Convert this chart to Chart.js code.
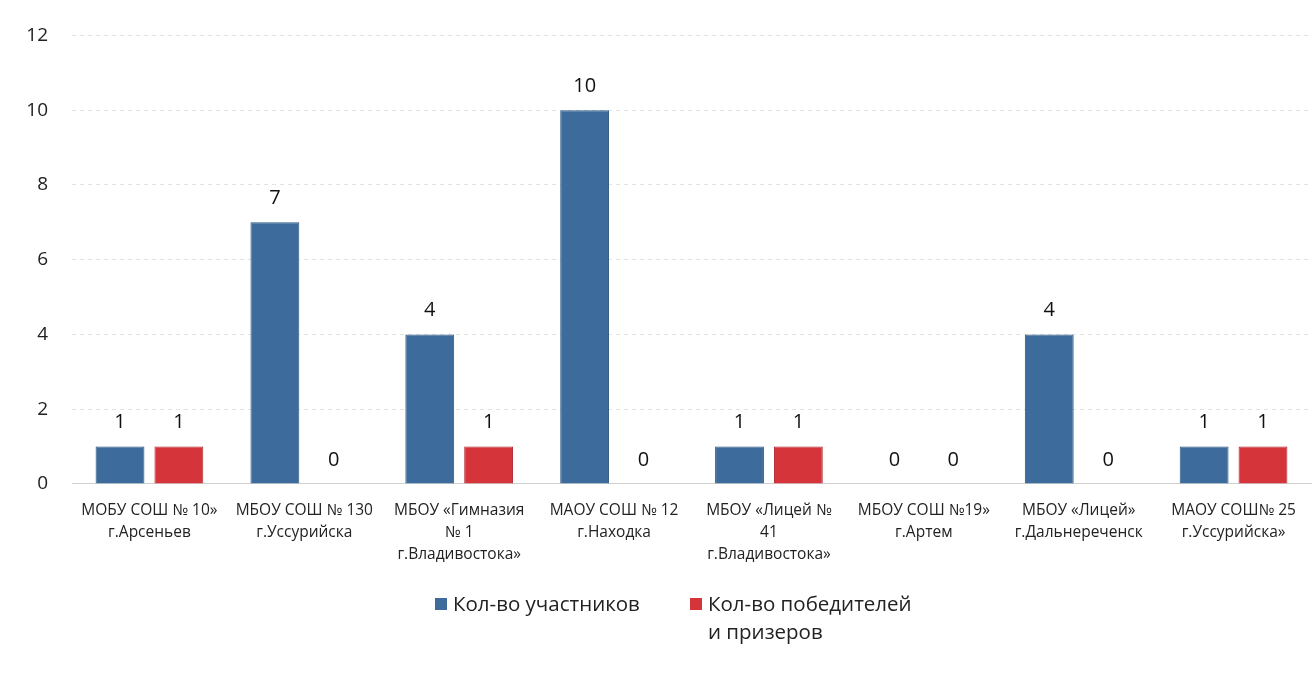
<!DOCTYPE html>
<html>
<head>
<meta charset="utf-8">
<script src="https://cdn.jsdelivr.net/npm/chart.js@4.4.0/dist/chart.umd.min.js"></script>
<style>
  html, body { margin: 0; padding: 0; background: #fff; }
  #wrap { position: relative; width: 1313px; height: 692px; }
  #legend { position: absolute; top: 589px; left: 0; width: 1313px; font-family: "Open Sans", "Noto Sans", sans-serif; font-size: 20.5px; color: #222; }
  .item { position: absolute; display: flex; align-items: flex-start; line-height: 28px; }
  .sw { width: 12px; height: 12px; margin-top: 9px; margin-right: 6px; }
</style>
</head>
<body>
<div id="wrap">
  <canvas id="c" width="1313" height="692"></canvas>
  <div id="legend"></div>
</div>
<script>
const categories = [
  ["МОБУ СОШ № 10»", "г.Арсеньев"],
  ["МБОУ СОШ № 130", "г.Уссурийска"],
  ["МБОУ «Гимназия", "№ 1", "г.Владивостока»"],
  ["МАОУ СОШ № 12", "г.Находка"],
  ["МБОУ «Лицей №", "41", "г.Владивостока»"],
  ["МБОУ СОШ №19»", "г.Артем"],
  ["МБОУ «Лицей»", "г.Дальнереченск"],
  ["МАОУ СОШ№ 25", "г.Уссурийска»"]
];
const participants = [1, 7, 4, 10, 1, 0, 4, 1];
const winners = [1, 0, 1, 0, 1, 0, 0, 1];
const seriesNames = ["Кол-во участников", "Кол-во победителей и призеров"];
const legendLines = [["Кол-во участников"], ["Кол-во победителей", "и призеров"]];
const yTicks = [0, 2, 4, 6, 8, 10, 12];
const colors = ["#3d6c9c", "#d6343b"];

const valueLabels = {
  id: "valueLabels",
  afterDatasetsDraw(chart) {
    const ctx = chart.ctx;
    ctx.save();
    ctx.font = '20px "Open Sans", "Noto Sans", sans-serif';
    ctx.fillStyle = "#111";
    ctx.textAlign = "center";
    ctx.textBaseline = "bottom";
    chart.data.datasets.forEach((ds, i) => {
      chart.getDatasetMeta(i).data.forEach((bar, j) => {
        ctx.fillText(String(ds.data[j]), bar.x, bar.y - 14);
      });
    });
    ctx.restore();
  }
};

new Chart(document.getElementById("c"), {
  type: "bar",
  data: {
    labels: categories,
    datasets: [
      { label: seriesNames[0], data: participants, backgroundColor: colors[0], borderColor: "#2c5580", borderWidth: 1 },
      { label: seriesNames[1], data: winners, backgroundColor: colors[1], borderColor: "#b02a30", borderWidth: 1 }
    ]
  },
  options: {
    responsive: false,
    animation: false,
    events: [],
    layout: { padding: { top: 20, right: 2, bottom: 119, left: 0 } },
    datasets: { bar: { categoryPercentage: 0.76, barPercentage: 0.83 } },
    plugins: { legend: { display: false }, tooltip: { enabled: false } },
    scales: {
      x: {
        grid: { display: false },
        border: { display: true, color: "#d0d0d0" },
        ticks: { color: "#222", font: { family: '"Open Sans", "Noto Sans", sans-serif', size: 15.5, lineHeight: 1.4 }, maxRotation: 0, autoSkip: false, padding: 8 }
      },
      y: {
        min: 0, max: 12,
        afterFit(scale) { scale.width = 72; },
        afterBuildTicks(scale) { scale.ticks = yTicks.map(v => ({ value: v })); },
        grid: { color: "#e2e2e2", drawTicks: false },
        border: { display: false, dash: [4, 4] },
        ticks: { color: "#222", font: { family: '"Open Sans", "Noto Sans", sans-serif', size: 19 }, padding: 24 }
      }
    }
  },
  plugins: [valueLabels]
});

const legend = document.getElementById("legend");
const lx = [435, 690];
legendLines.forEach((lines, i) => {
  const it = document.createElement("div");
  it.className = "item";
  it.style.left = lx[i] + "px";
  const sw = document.createElement("div");
  sw.className = "sw";
  sw.style.background = colors[i];
  const tx = document.createElement("div");
  tx.innerHTML = lines.join("<br>");
  it.appendChild(sw);
  it.appendChild(tx);
  legend.appendChild(it);
});
</script>
</body>
</html>
